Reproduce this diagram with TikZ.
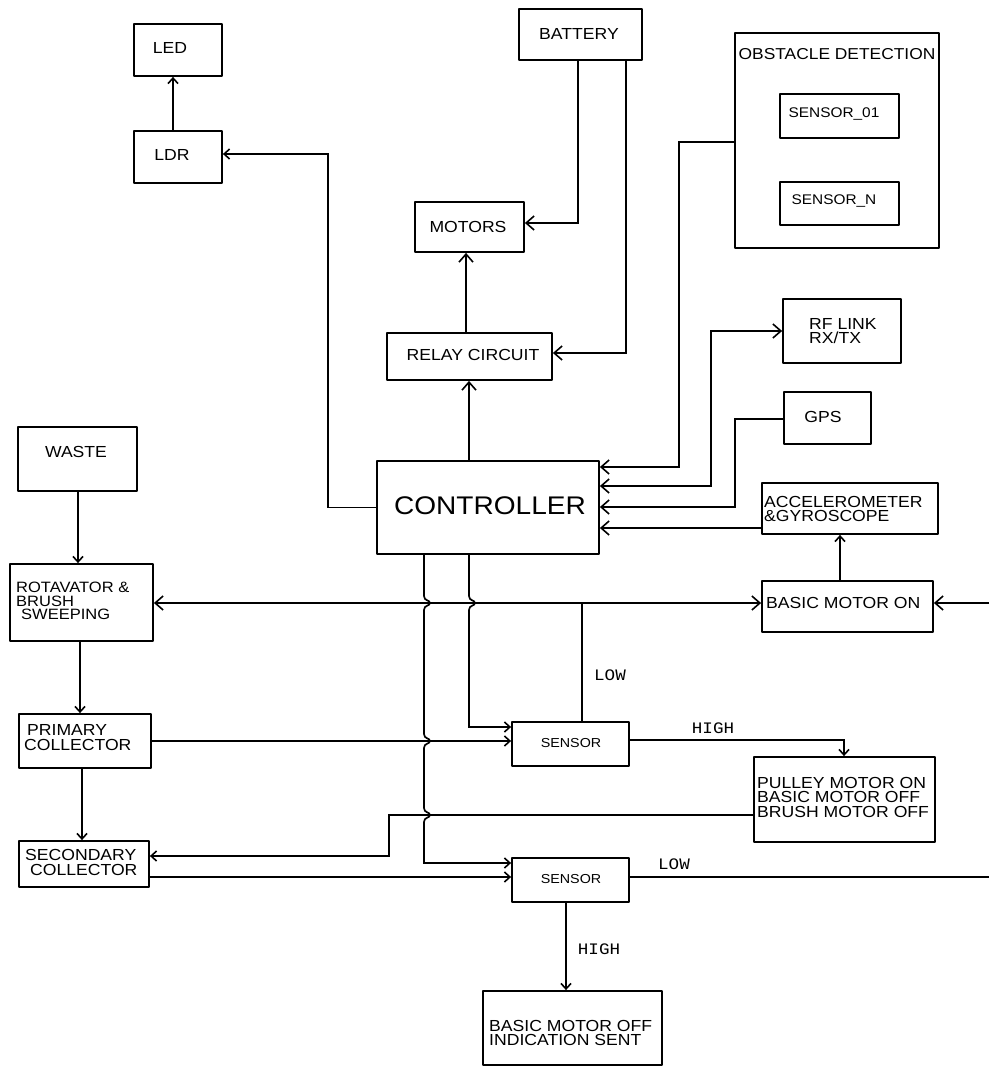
\documentclass[tikz,border=0pt]{standalone}
\usepackage{fontspec}
\setmainfont{Liberation Sans}[FakeStretch=1.1]
\newfontfamily\lblfont{Liberation Mono}[FakeStretch=1.1]
\usetikzlibrary{arrows.meta}
\tikzset{
  box/.style={draw, line width=1.8pt, line join=round, inner sep=0pt},
  txt/.style={inner sep=0pt, align=left, font=\fontsize{16}{14.5}\selectfont},
  ln/.style={line width=1.7pt},
  arr/.style={ln, -{Straight Barb[length=8pt,width=14pt,line width=1.6pt]}},
  sarr/.style={ln, -{Straight Barb[length=5.5pt,width=10pt,line width=1.6pt]}},
  barr/.style={ln, {Straight Barb[length=8pt,width=14pt,line width=1.6pt]}-{Straight Barb[length=8pt,width=14pt,line width=1.6pt]}},
  lbl/.style={inner sep=0pt, font=\lblfont\fontsize{16}{16}\selectfont}
}
\begin{document}
\begin{tikzpicture}[x=1pt,y=-1pt]
\fill[white] (0,0) rectangle (989,1067);
\useasboundingbox (0,0) rectangle (989,1067);
% boxes
\node[box, minimum width=88, minimum height=52] (led) at (178,50) {};
\node[box, minimum width=88, minimum height=52] (ldr) at (178,157) {};
\node[box, minimum width=123, minimum height=51] (battery) at (580.5,34.5) {};
\node[box, minimum width=109, minimum height=50] (motors) at (469.5,227) {};
\node[box, minimum width=165, minimum height=47] (relay) at (469.5,356.5) {};
\node[box, minimum width=204, minimum height=215] (obst) at (837,140.5) {};
\node[box, minimum width=119, minimum height=44] (s01) at (839.5,116) {};
\node[box, minimum width=119, minimum height=43] (sn) at (839.5,203.5) {};
\node[box, minimum width=118, minimum height=64] (rf) at (842,331) {};
\node[box, minimum width=87, minimum height=52] (gps) at (827.5,418) {};
\node[box, minimum width=222, minimum height=93] (ctrl) at (488,507.5) {};
\node[box, minimum width=176, minimum height=51] (acc) at (850,508.5) {};
\node[box, minimum width=171, minimum height=51] (bon) at (847.5,606.5) {};
\node[box, minimum width=119, minimum height=64] (waste) at (77.5,459) {};
\node[box, minimum width=143, minimum height=77] (rot) at (81.5,602.5) {};
\node[box, minimum width=132, minimum height=54] (prim) at (85,741) {};
\node[box, minimum width=130, minimum height=46] (sec) at (84,864) {};
\node[box, minimum width=117, minimum height=44] (s1) at (570.5,744) {};
\node[box, minimum width=117, minimum height=44] (s2) at (570.5,880) {};
\node[box, minimum width=181, minimum height=85] (pul) at (844.5,799.5) {};
\node[box, minimum width=179, minimum height=74] (boff) at (572.5,1028) {};
% texts
\node[txt] (ledt) at (170,48) {LED};
\node[txt] (ldrt) at (172,155) {LDR};
\node[txt] (batt) at (579,34) {BATTERY};
\node[txt] (mott) at (468,227) {MOTORS};
\node[txt] (relt) at (473,355) {RELAY CIRCUIT};
\node[txt, font=\fontsize{15.8}{15}\selectfont] (obstt) at (837,54) {OBSTACLE DETECTION};
\node[txt, font=\fontsize{14}{14}\selectfont] (s01t) at (834,114) {SENSOR\_01};
\node[txt, font=\fontsize{14}{14}\selectfont] (snt) at (834,201) {SENSOR\_N};
\node[txt, anchor=west] (rft) at (809,331) {RF LINK\\RX/TX};
\node[txt] (gpst) at (823,417) {GPS};
\node[txt, font=\fontsize{25.5}{26}\selectfont] (ctrlt) at (490,506) {CONTROLLER};
\node[txt, anchor=west] (acct) at (764,509) {ACCELEROMETER\\\&GYROSCOPE};
\node[txt, anchor=west] (bont) at (766,603) {BASIC MOTOR ON};
\node[txt] (wastet) at (76,452) {WASTE};
\node[txt, anchor=west, font=\fontsize{15}{13.6}\selectfont] (rott) at (16,601) {ROTAVATOR \&\\BRUSH\\\hspace*{5pt}SWEEPING};
\node[txt, anchor=west, font=\fontsize{16}{15}\selectfont] (primt) at (24,738) {\hspace*{3pt}PRIMARY\\COLLECTOR};
\node[txt, anchor=west, font=\fontsize{16}{15}\selectfont] (sect) at (25,862) {SECONDARY\\\hspace*{5pt}COLLECTOR};
\node[txt, font=\fontsize{13}{13}\selectfont] (s1t) at (571,743) {SENSOR};
\node[txt, font=\fontsize{13}{13}\selectfont] (s2t) at (571,879) {SENSOR};
\node[txt, anchor=west] (pult) at (757,797) {PULLEY MOTOR ON\\BASIC MOTOR OFF\\BRUSH MOTOR OFF};
\node[txt, anchor=west, font=\fontsize{16}{14}\selectfont] (bofft) at (489,1033) {BASIC MOTOR OFF\\INDICATION SENT};
% labels
\node[lbl] (low1) at (610,675) {LOW};
\node[lbl] (high1) at (713,728) {HIGH};
\node[lbl] (low2) at (674,864) {LOW};
\node[lbl] (high2) at (599,949) {HIGH};
% edge coordinates
\coordinate (e1) at (989,603);
\coordinate (e2) at (989,877);
\coordinate (j1) at (582,603);
% connectors
\draw[sarr] (ldr.north -| 173,0) -- (led.south -| 173,0);
\draw[sarr] (ctrl.west) -- (ctrl.west -| 328,0) |- (ldr.east |- 0,154);
\draw[arr] (ctrl.north -| 469,0) -- (relay.south -| 469,0);
\draw[arr] (relay.north -| 466,0) -- (motors.south -| 466,0);
\draw[arr] (battery.south -| 578,0) |- (motors.east |- 0,223);
\draw[arr] (battery.south -| 626,0) |- (relay.east |- 0,353);
\draw[arr] (obst.west |- 0,142) -- ++(-55,0) |- (ctrl.east |- 0,467);
\draw[barr] (ctrl.east |- 0,486) -- ++(111,0) |- (rf.west |- 0,331);
\draw[arr] (gps.west |- 0,419) -- ++(-48,0) |- (ctrl.east |- 0,507);
\draw[arr] (acc.west |- 0,528) -- (ctrl.east |- 0,528);
\draw[sarr] (bon.north -| 840,0) -- (acc.south -| 840,0);
\draw[barr] (rot.east |- 0,603) -- (bon.west |- 0,603);
\draw[arr] (e1) -- (bon.east |- e1);
\draw[ln] (s1.north -| j1) -- (j1);
% controller to sensor 1 (with jump)
\draw[sarr] (ctrl.south -| 469,0) -- (469,596) .. controls (469,601) and (475,600) .. (475,603) .. controls (475,606) and (469,605) .. (469,610) |- (s1.west |- 0,727);
% controller to sensor 2 (with jumps)
\draw[sarr] (ctrl.south -| 424,0) -- (424,596) .. controls (424,601) and (430,600) .. (430,603) .. controls (430,606) and (424,605) .. (424,610)
  -- (424,734) .. controls (424,739) and (430,738) .. (430,741) .. controls (430,744) and (424,743) .. (424,748)
  -- (424,808) .. controls (424,813) and (430,812) .. (430,815) .. controls (430,818) and (424,817) .. (424,822)
  |- (s2.west |- 0,863);
\draw[sarr] (prim.east |- 0,741) -- (s1.west |- 0,741);
\draw[sarr] (s1.east |- 0,740) -| (pul.north -| 844,0);
\draw[sarr] (pul.west |- 0,815) -- (389,815) |- (sec.east |- 0,856);
\draw[sarr] (sec.east |- 0,877) -- (s2.west |- 0,877);
\draw[sarr] (s2.south -| 566,0) -- (boff.north -| 566,0);
\draw[ln] (s2.east |- e2) -- (e2);
\draw[sarr] (waste.south -| 78,0) -- (rot.north -| 78,0);
\draw[sarr] (rot.south -| 80,0) -- (prim.north -| 80,0);
\draw[sarr] (prim.south -| 82,0) -- (sec.north -| 82,0);
\end{tikzpicture}
\end{document}
